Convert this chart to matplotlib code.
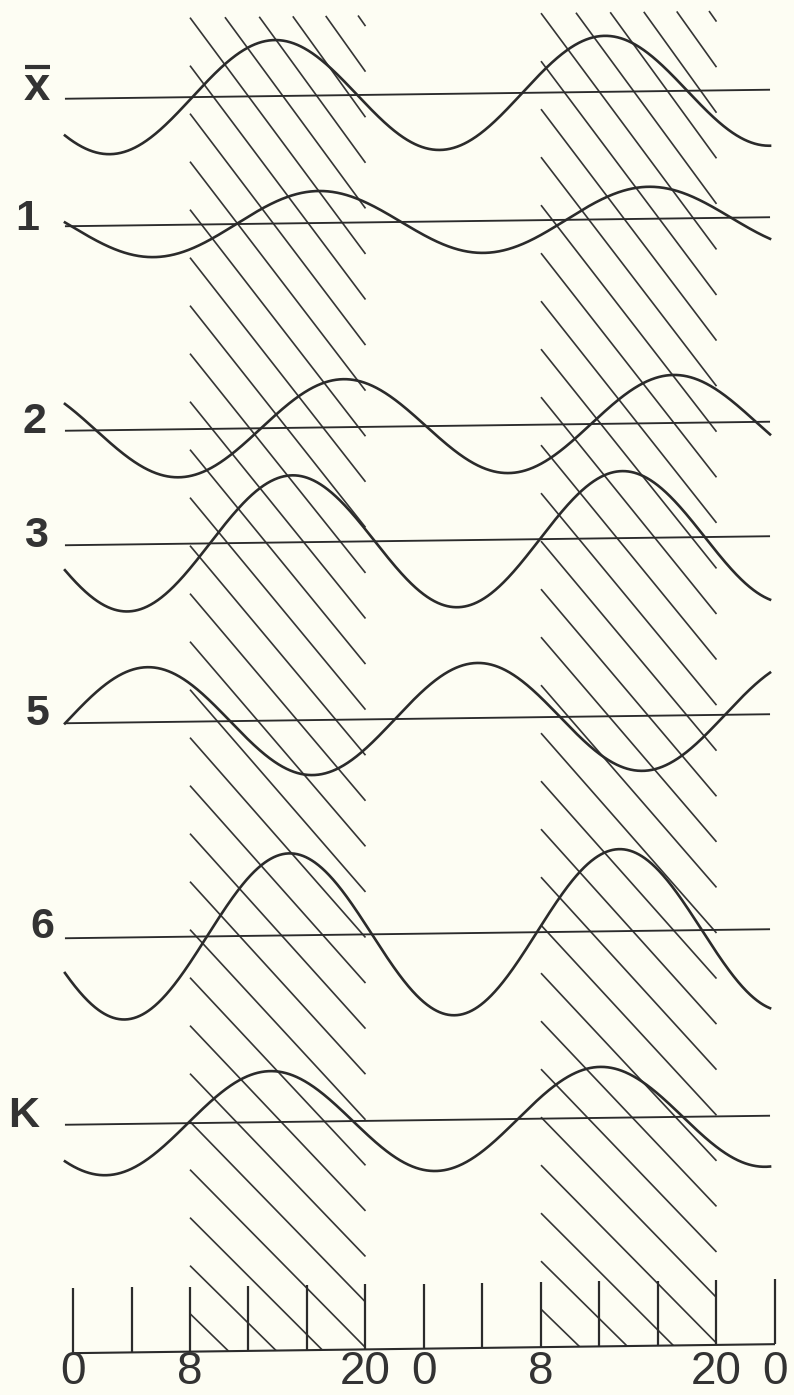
import numpy as np
import matplotlib
matplotlib.use("Agg")
import matplotlib.pyplot as plt
from matplotlib.transforms import Affine2D
from matplotlib.collections import LineCollection
from matplotlib.lines import Line2D

# ---------------- data ----------------
ROW_LABELS = ["x", "1", "2", "3", "5", "6", "K"]          # first row is x-bar
AMPLITUDE = [56, 32, 48, 67, 55, 82, 51]                   # drawing units
ACROPHASE_H = [13.8, 16.8, 18.5, 15.0, 5.1, 14.8, 13.5]    # hour of first peak
PERIOD_H = 22.56                                           # period of drawn curves
HATCH_BANDS = [(8, 20), (32, 44)]                          # hatched hours
AXIS_TICKS = list(range(0, 49, 4))
AXIS_LABEL_HOURS = [0, 8, 20, 24, 32, 44, 48]
AXIS_LABEL_TEXT = ["0", "8", "20", "0", "8", "20", "0"]

# ---------------- layout ----------------
W, H = 794, 1395
BG = "#fdfdf3"
INK = "#2b2b2b"
PX_PER_H = 14.625
X0_PX = 73
ROW_Y = [94.5, 222, 426.5, 541, 719, 934, 1120.5]
T_START, T_END = -0.55, 47.66
LABEL_POS = [(37, 100), (27, 230), (35, 433), (36, 547), (38, 725), (42, 938), (24, 1127)]
AXIS_Y = 1349
TICK_TOP = 1284
AXIS_LABEL_BASE = 1384
HATCH_TOP, HATCH_BOTTOM = 15, AXIS_Y
HATCH_SPACING = 48
TILT = 9 / 703.0


def hatch_slope(y):
    return 1.4 - 0.4 * (y / 1350.0)


fig = plt.figure(figsize=(W / 100, H / 100), dpi=100, facecolor=BG)
ax = fig.add_axes([0, 0, 1, 1])
ax.set_facecolor(BG)
ax.set_xlim(-X0_PX / PX_PER_H, (W - X0_PX) / PX_PER_H)
ax.set_ylim(H, 0)
ax.axis("off")

shear = Affine2D.from_values(1, TILT, 0, 1, 0, -TILT * W / 2)
tr = ax.transData + shear

# hatching
segs = []
for (L, R) in HATCH_BANDS:
    w_px = (R - L) * PX_PER_H
    k = -6
    while True:
        y0 = HATCH_TOP + k * HATCH_SPACING
        if y0 >= HATCH_BOTTOM:
            break
        k += 1
        s = hatch_slope(y0)
        s = hatch_slope(y0 + s * w_px / 2)
        y1 = y0 + s * w_px
        ya, yb = max(y0, HATCH_TOP), min(y1, HATCH_BOTTOM)
        if yb <= ya:
            continue
        xa = L + (ya - y0) / s / PX_PER_H
        xb = L + (yb - y0) / s / PX_PER_H
        segs.append([(xa, ya), (xb, yb)])
lc = LineCollection(segs, colors="#353535", linewidths=1.2, transform=tr, zorder=1)
ax.add_collection(lc)

# rows
t = np.linspace(T_START, T_END, 1200)
for yb, amp, ph in zip(ROW_Y, AMPLITUDE, ACROPHASE_H):
    ax.plot([T_START, T_END], [yb, yb], color=INK, lw=1.35, transform=tr, zorder=2,
            solid_capstyle="butt")
    y = yb - amp * np.cos(2 * np.pi * (t - ph) / PERIOD_H)
    ax.plot(t, y, color=INK, lw=1.9, transform=tr, zorder=3)

# bottom axis
ax.plot([AXIS_TICKS[0], AXIS_TICKS[-1]], [AXIS_Y, AXIS_Y], color=INK, lw=1.5,
        transform=tr, zorder=2, solid_capstyle="butt")
for tk in AXIS_TICKS:
    ax.plot([tk, tk], [TICK_TOP, AXIS_Y], color=INK, lw=1.6, transform=tr, zorder=2,
            solid_capstyle="butt")
for hv, txt in zip(AXIS_LABEL_HOURS, AXIS_LABEL_TEXT):
    ax.text(hv, AXIS_LABEL_BASE, txt, ha="center", va="baseline", fontsize=33,
            family="Liberation Sans", color="#333333")

# row labels
for lab, (px, py) in zip(ROW_LABELS, LABEL_POS):
    fs = 34 if lab == "x" else 31
    fig.text(px / W, 1 - py / H, lab, ha="center", va="baseline", fontsize=fs,
             family="Liberation Sans", weight="bold", color="#333333")
# bar over x
fig.add_artist(Line2D([25 / W, 50 / W], [1 - 67 / H, 1 - 67 / H], color="#333333",
                      lw=3.0, transform=fig.transFigure, solid_capstyle="butt"))

fig.savefig("out.png", dpi=100, facecolor=BG)
